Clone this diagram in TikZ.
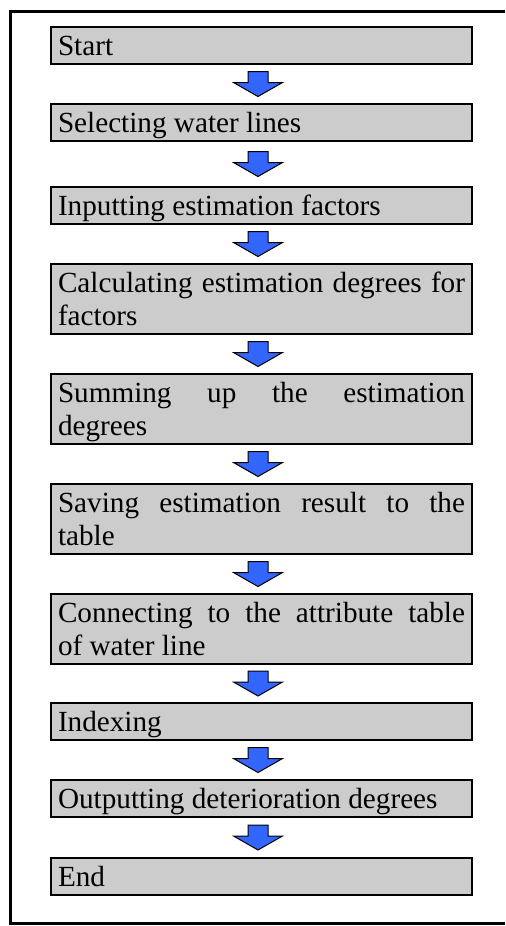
\documentclass[tikz,border=0pt]{standalone}
\usepackage{fontspec}
\setmainfont{Liberation Serif}
\usetikzlibrary{calc}
\definecolor{boxgray}{HTML}{CCCCCC}
\definecolor{arrowblue}{HTML}{3366FF}
\tikzset{
  stepbox/.style={draw, line width=1pt, fill=boxgray, anchor=north west,
    text width=203.5pt, inner xsep=3.5pt, inner ysep=0pt, align=justify,
    execute at begin node={\spaceskip=0.25em plus 1em\hyphenpenalty=10000\rule{0pt}{14.25pt}},
    execute at end node={\rule[-4.25pt]{0pt}{4.25pt}}},
  flowarrow/.style={draw, line width=0.5pt, fill=arrowblue, line join=miter}
}
\newcommand{\flowstep}[2]{%
  \coordinate (m) at ($(#1.south)!0.5!(#2.north)+(-1.75pt,0)$);
  \draw[flowarrow] ($(m)+(-5pt,6.25pt)$) -- ++(10pt,0) -- ++(0,-5.5pt) -- ++(7.25pt,0)
    -- ++(-12.25pt,-7pt) -- ++(-12.25pt,7pt) -- ++(7.25pt,0) -- cycle;
}

\begin{document}
\begin{tikzpicture}[x=0.5pt,y=-0.5pt, every node/.style={font=\fontsize{14.6}{16.5}\selectfont}]
    \useasboundingbox (0,0) rectangle (505,926);
    \draw[line width=1.5pt] (505,11) -| (10.5,923) -- (505,923);
    \node[stepbox] (start) at (50,26) {Start};
    \node[stepbox] (select) at (50,103) {Selecting water lines};
    \node[stepbox] (input) at (50,186) {Inputting estimation factors};
    \node[stepbox] (calc) at (50,263) {Calculating estimation degrees for factors};
    \node[stepbox] (sum) at (50,373) {Summing up the estimation degrees};
    \node[stepbox] (save) at (50,483) {Saving estimation result to the table};
    \node[stepbox] (connect) at (50,593) {Connecting to the attribute table of water line};
    \node[stepbox] (index) at (50,702) {Indexing};
    \node[stepbox] (output) at (50,779) {Outputting deterioration degrees};
    \node[stepbox] (finish) at (50,857) {End};
    \flowstep{start}{select}
    \flowstep{select}{input}
    \flowstep{input}{calc}
    \flowstep{calc}{sum}
    \flowstep{sum}{save}
    \flowstep{save}{connect}
    \flowstep{connect}{index}
    \flowstep{index}{output}
    \flowstep{output}{finish}
\end{tikzpicture}
\end{document}
